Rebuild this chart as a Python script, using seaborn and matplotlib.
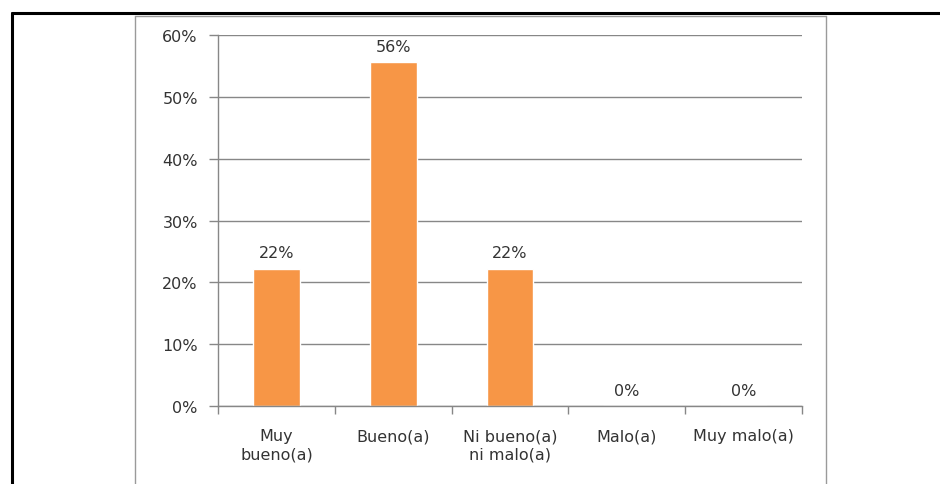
import matplotlib
matplotlib.use("Agg")
import matplotlib.pyplot as plt
import seaborn as sns
import pandas as pd
from matplotlib.lines import Line2D
from matplotlib.ticker import FuncFormatter, FixedLocator

categories = ["Muy\nbueno(a)", "Bueno(a)", "Ni bueno(a)\nni malo(a)", "Malo(a)", "Muy malo(a)"]
values = [0.222, 0.556, 0.222, 0.0, 0.0]
labels = ["22%", "56%", "22%", "0%", "0%"]
yticks = [0, 0.1, 0.2, 0.3, 0.4, 0.5, 0.6]

sns.set_theme(style="white")
plt.rcParams['font.family'] = ['DejaVu Sans']

W, H = 940, 485
fig = plt.figure(figsize=(W / 100, H / 100), dpi=100)
fig.patch.set_facecolor("white")

def fx(px):
    return px / W

def fy(py):
    return 1 - py / H

# outer black frame
fig.add_artist(Line2D([fx(12), fx(12)], [fy(14), 0], transform=fig.transFigure, color="black", lw=2.2))
fig.add_artist(Line2D([fx(12), 1], [fy(14), fy(14)], transform=fig.transFigure, color="black", lw=2.2))
# inner gray chart frame
fig.add_artist(Line2D([fx(135), fx(135)], [fy(17), 0], transform=fig.transFigure, color="#9a9a9a", lw=1))
fig.add_artist(Line2D([fx(826), fx(826)], [fy(17), 0], transform=fig.transFigure, color="#9a9a9a", lw=1))
fig.add_artist(Line2D([fx(135), fx(826)], [fy(17), fy(17)], transform=fig.transFigure, color="#9a9a9a", lw=1))

left, right, top, bottom = 218, 802, 36, 407
ax = fig.add_axes([fx(left), fy(bottom), fx(right - left), (bottom - top) / H])

df = pd.DataFrame({"cat": categories, "val": values})
sns.barplot(data=df, x="cat", y="val", color="#F79646", width=0.4, ax=ax, saturation=1)

ax.set_xlim(-0.5, 4.5)
ax.set_ylim(0, 0.6)
ax.set_yticks(yticks)
ax.yaxis.set_major_formatter(FuncFormatter(lambda v, p: f"{v*100:.0f}%"))
ax.grid(axis="y", color="#878787", lw=1)
ax.set_axisbelow(True)
ax.set_xlabel("")
ax.set_ylabel("")

for s in ["top", "right"]:
    ax.spines[s].set_visible(False)
for s in ["left", "bottom"]:
    ax.spines[s].set_color("#878787")
    ax.spines[s].set_linewidth(1)

fs = 11.5
ax.xaxis.set_minor_locator(FixedLocator([-0.5, 0.5, 1.5, 2.5, 3.5, 4.5]))
ax.tick_params(axis="x", which="major", length=0, pad=16, labelsize=fs, labelcolor="#333333")
ax.tick_params(axis="x", which="minor", length=6, width=1, color="#878787", direction="out", bottom=True)
ax.tick_params(axis="y", which="major", length=6.5, width=1, color="#878787", direction="out", left=True,
               pad=8, labelsize=fs, labelcolor="#333333")
for t in ax.get_xticklabels():
    t.set_linespacing(1.3)

for i, (v, lab) in enumerate(zip(values, labels)):
    ax.annotate(lab, (i, v), xytext=(0, 6), textcoords="offset points", ha="center", va="bottom",
                fontsize=fs, color="#333333")

fig.savefig("out.png", dpi=100, facecolor="white")
